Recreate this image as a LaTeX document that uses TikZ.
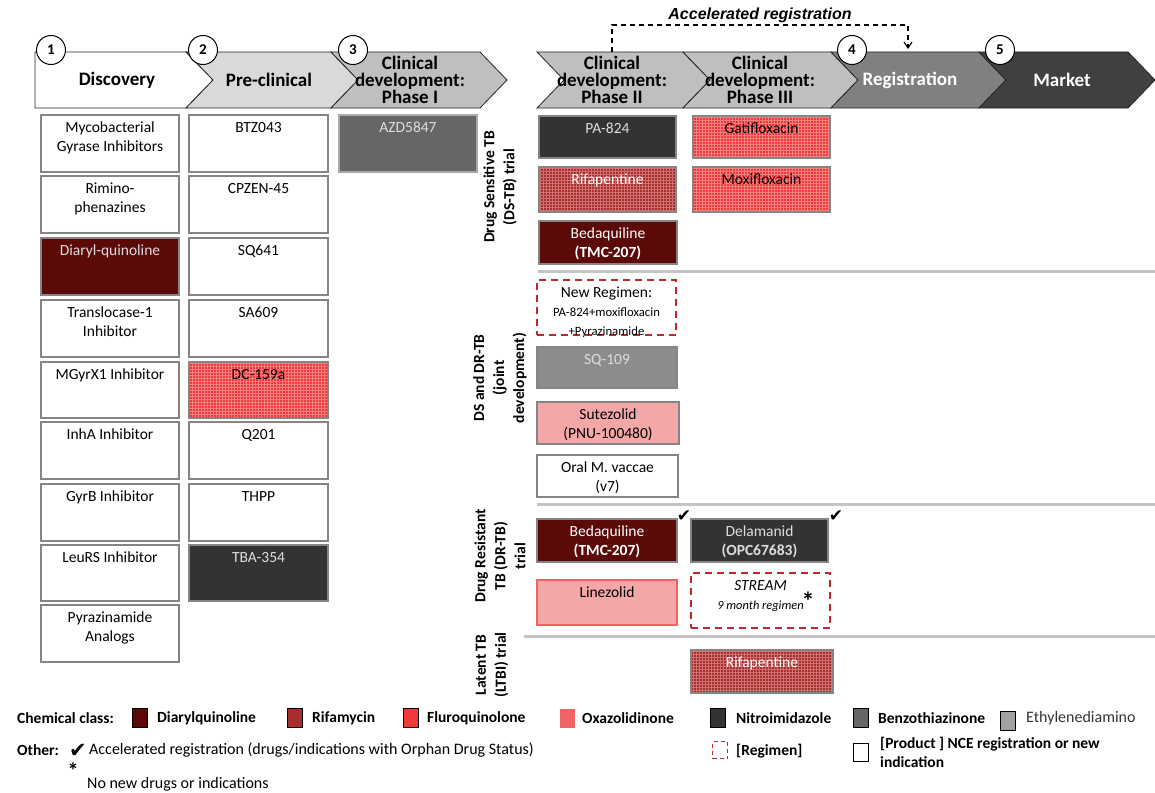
\documentclass[tikz,border=0pt]{standalone}
\usepackage{fontspec}
\setmainfont{Carlito}
\newfontfamily\arialfont{Liberation Sans}
\newfontfamily\symfont{DejaVu Sans}
\usetikzlibrary{patterns,arrows.meta}
\definecolor{boxgray}{HTML}{858585}
\definecolor{dq}{HTML}{5C0A08}
\definecolor{rifred}{HTML}{A82E2E}
\definecolor{rifgrid}{HTML}{D07070}
\definecolor{flured}{HTML}{F03A3A}
\definecolor{flugrid}{HTML}{F68080}
\definecolor{oxa}{HTML}{F4A7A7}
\definecolor{oxaborder}{HTML}{F26060}
\definecolor{oxaleg}{HTML}{F26464}
\definecolor{nitro}{HTML}{333333}
\definecolor{benzo}{HTML}{666666}
\definecolor{ethyl}{HTML}{8C8C8C}
\definecolor{dashred}{HTML}{C0262C}
\definecolor{sepgray}{HTML}{C4C4C4}
\definecolor{lighttext}{HTML}{DDDDDD}
\definecolor{chA}{HTML}{D9D9D9}
\definecolor{chB}{HTML}{BFBFBF}
\definecolor{chC}{HTML}{808080}
\definecolor{chD}{HTML}{404040}
\tikzset{
  chev/.style={draw=black!85, line width=0.8pt},
  numc/.style={circle, draw=black, line width=1pt, fill=white, minimum size=29pt, inner sep=0pt, font=\bfseries\fontsize{15}{15}\selectfont},
  head/.style={align=center, font=\bfseries\fontsize{19}{17}\selectfont, inner sep=0pt},
  bbox/.style={draw=boxgray, line width=2.5pt, inner sep=0pt, outer sep=0pt},
  whitebox/.style={bbox, fill=white},
  dqbox/.style={bbox, fill=dq},
  rifbox/.style={bbox, preaction={fill=rifred}, pattern=grid, pattern color=rifgrid},
  flubox/.style={bbox, preaction={fill=flured}, pattern=grid, pattern color=flugrid},
  oxabox/.style={bbox, fill=oxa},
  linbox/.style={bbox, fill=oxa, draw=oxaborder},
  nitrobox/.style={bbox, fill=nitro},
  benzobox/.style={bbox, fill=benzo, draw=boxgray!70},
  ethylbox/.style={bbox, fill=ethyl},
  regbox/.style={draw=dashred, line width=2pt, dash pattern=on 7pt off 5pt, inner sep=0pt, outer sep=0pt},
  btext/.style={align=center, anchor=north, inner sep=0pt, font=\fontsize{15.5}{19}\selectfont},
  side/.style={rotate=90, align=center, inner sep=0pt, font=\bfseries\fontsize{15.5}{20}\selectfont},
  sepline/.style={draw=sepgray, line width=3pt},
  lsq/.style={draw=black, line width=1pt, minimum width=15pt, minimum height=19pt, inner sep=0pt},
  ltext/.style={anchor=west, inner sep=0pt, font=\fontsize{16}{19}\selectfont},
  lbold/.style={anchor=west, inner sep=0pt, font=\bfseries\fontsize{15.5}{19}\selectfont},
  chk/.style={inner sep=0pt, font=\symfont\fontsize{17}{17}\selectfont},
}
\newcommand\bx[8]{%
  \node[#6, minimum width={#4pt-#2pt}, minimum height={#5pt-#3pt}] (#1) at ({(#2+#4)/2},{(#3+#5)/2}) {};
  \node[btext, text=#7] (#1-t) at ([yshift=-3.5pt]#1.north) {\strut #8};
}
\begin{document}
\begin{tikzpicture}[x=1pt, y=-1pt]
\useasboundingbox (0,0) rectangle (1155,792);

% ---------- header chevrons ----------
\path[chev, fill=white] (35,52) -- (186,52) -- (213,80) -- (186,108) -- (35,108) -- cycle;
\path[chev, fill=chA] (186,52) -- (331,52) -- (358,80) -- (331,108) -- (186,108) -- (213,80) -- cycle;
\path[chev, fill=chB] (331,52) -- (480,52) -- (507,80) -- (480,108) -- (331,108) -- (358,80) -- cycle;
\path[chev, fill=chB] (537,52) -- (683,52) -- (710,80) -- (683,108) -- (537,108) -- (564,80) -- cycle;
\path[chev, fill=chB] (683,52) -- (831,52) -- (858,80) -- (831,108) -- (683,108) -- (710,80) -- cycle;
\path[chev, fill=chC] (831,52) -- (979,52) -- (1006,80) -- (979,108) -- (831,108) -- (858,80) -- cycle;
\path[chev, fill=chD] (979,52) -- (1128,52) -- (1155,80) -- (1128,108) -- (979,108) -- (1006,80) -- cycle;

\node[head] (h1) at (117,80) {Discovery};
\node[head] (h2) at (269,80) {Pre-clinical};
\node[head] (h3) at (410,80) {Clinical\\development:\\Phase I};
\node[head] (h4) at (612,80) {Clinical\\development:\\Phase II};
\node[head] (h5) at (760,80) {Clinical\\development:\\Phase III};
\node[head, text=white] (h6) at (910,80) {Registration};
\node[head, text=white] (h7) at (1062,80) {Market};

\node[numc] (n1) at (51,50) {1};
\node[numc] (n2) at (203,50) {2};
\node[numc] (n3) at (353,50) {3};
\node[numc] (n4) at (852,50) {4};
\node[numc] (n5) at (1000,50) {5};

% accelerated registration
\coordinate (accS) at (612,52);
\coordinate (accE) at (908,49);
\draw[line width=1.1pt, dash pattern=on 5pt off 4pt, -{Straight Barb[length=6pt, width=8pt]}] (accS) -- ++(0,-27) -| (accE);
\node[inner sep=0pt, font=\arialfont\bfseries\itshape\fontsize{16}{16}\selectfont] (acc) at (760,15) {Accelerated registration};

% ---------- Discovery column ----------
\bx{d1}{41}{115}{179}{172}{whitebox}{black}{Mycobacterial\\Gyrase Inhibitors}
\bx{d2}{41}{176}{179}{233}{whitebox}{black}{Rimino-\\phenazines}
\bx{d3}{41}{238}{179}{295}{dqbox}{lighttext}{Diaryl-quinoline}
\bx{d4}{41}{300}{179}{357}{whitebox}{black}{Translocase-1\\Inhibitor}
\bx{d5}{41}{362}{179}{418}{whitebox}{black}{MGyrX1 Inhibitor}
\bx{d6}{41}{422}{179}{479}{whitebox}{black}{InhA Inhibitor}
\bx{d7}{41}{484}{179}{541}{whitebox}{black}{GyrB Inhibitor}
\bx{d8}{41}{545}{179}{601}{whitebox}{black}{LeuRS Inhibitor}
\bx{d9}{41}{605}{179}{662}{whitebox}{black}{Pyrazinamide\\Analogs}

% ---------- Pre-clinical column ----------
\bx{p1}{189}{115}{328}{172}{whitebox}{black}{BTZ043}
\bx{p2}{189}{176}{328}{233}{whitebox}{black}{CPZEN-45}
\bx{p3}{189}{238}{328}{295}{whitebox}{black}{SQ641}
\bx{p4}{189}{300}{328}{357}{whitebox}{black}{SA609}
\bx{p5}{189}{362}{328}{418}{flubox}{black}{DC-159a}
\bx{p6}{189}{422}{328}{479}{whitebox}{black}{Q201}
\bx{p7}{189}{484}{328}{541}{whitebox}{black}{THPP}
\bx{p8}{189}{545}{328}{601}{nitrobox}{lighttext}{TBA-354}

% ---------- Phase I ----------
\bx{c1}{339}{115}{477}{172}{benzobox}{lighttext}{AZD5847}

% ---------- side labels ----------
\node[side] (sDS) at (500,187) {Drug Sensitive TB\\(DS-TB) trial};
\node[side] (sJ) at (500,378) {DS and DR-TB\\(joint\\development)};
\node[side] (sDR) at (500,556) {Drug Resistant\\TB (DR-TB)\\trial};
\node[side] (sL) at (492,665) {Latent TB\\(LTBI) trial};

% ---------- separators ----------
\coordinate (s1a) at (538,271); \coordinate (s1b) at (1155,271);
\coordinate (s2a) at (537,504); \coordinate (s2b) at (1155,504);
\coordinate (s3a) at (524,636); \coordinate (s3b) at (1155,636);
\draw[sepline] (s1a) -- (s1b);
\draw[sepline] (s2a) -- (s2b);
\draw[sepline] (s3a) -- (s3b);

% ---------- DS-TB ----------
\bx{r1}{539}{116}{676}{158}{nitrobox}{lighttext}{PA-824}
\bx{r2}{539}{167}{676}{212}{rifbox}{white}{Rifapentine}
\bx{r3}{539}{221}{677}{264}{dqbox}{white}{Bedaquiline\\\textbf{(TMC-207)}}
\bx{r4}{693}{116}{830}{158}{flubox}{black}{Gatifloxacin}
\bx{r5}{693}{167}{830}{212}{flubox}{black}{Moxifloxacin}

% ---------- joint ----------
\bx{j1}{537}{280}{676}{335}{regbox}{black}{New Regimen:\\{\fontsize{12.7}{15}\selectfont PA-824+moxifloxacin}\\{\fontsize{12.7}{15}\selectfont +Pyrazinamide}}
\bx{j2}{537}{347}{677}{388}{ethylbox}{lighttext}{SQ-109}
\bx{j3}{537}{402}{679}{444}{oxabox}{black}{Sutezolid\\(PNU-100480)}
\bx{j4}{537}{455}{678}{497}{whitebox}{black}{Oral M. vaccae\\(v7)}

% ---------- DR-TB ----------
\bx{k1}{537}{519}{677}{562}{dqbox}{white}{Bedaquiline\\\textbf{(TMC-207)}}
\bx{k2}{691}{519}{828}{562}{nitrobox}{lighttext}{Delamanid\\\textbf{(OPC67683)}}
\bx{k3}{537}{580}{677}{625}{linbox}{black}{Linezolid}
\bx{k4}{691}{573}{830}{628}{regbox}{black}{\textit{STREAM}\\{\fontsize{12.4}{15}\selectfont\itshape 9 month regimen}}
\node[inner sep=0pt, font=\bfseries\fontsize{26}{26}\selectfont] (k4s) at (808,601) {*};
\node[chk] (ck1) at (684,516) {✔};
\node[chk] (ck2) at (836,516) {✔};

% ---------- LTBI ----------
\bx{m1}{691}{650}{833}{693}{rifbox}{white}{Rifapentine}

% ---------- legend ----------
\node[lbold] (lgT) at (17,718) {Chemical class:};
\node[lsq, fill=dq] (q1) at (140,718) {};
\node[lbold] (q1t) at (157,718) {Diarylquinoline};
\node[lsq, fill=rifred] (q2) at (295,718) {};
\node[lbold] (q2t) at (312,718) {Rifamycin};
\node[lsq, fill=flured] (q3) at (411,718) {};
\node[lbold] (q3t) at (427,718) {Fluroquinolone};
\node[lsq, fill=oxaleg, draw=none] (q4) at (567,718) {};
\node[lbold] (q4t) at (582,718) {Oxazolidinone};
\node[lsq, fill=nitro] (q5) at (718,718) {};
\node[lbold] (q5t) at (736,718) {Nitroimidazole};
\node[lsq, fill=benzo] (q6) at (861,718) {};
\node[lbold] (q6t) at (878,718) {Benzothiazinone};
\node[lsq, fill=ethyl!80] (q7) at (1008,721) {};
\node[ltext, text=black!80] (q7t) at (1026,718) {Ethylenediamino};

\node[lbold] (lgO) at (17,750) {Other:};
\node[inner sep=0pt, font=\symfont\fontsize{21}{21}\selectfont] (oc) at (78,751) {✔};
\node[ltext] (oct) at (89,750) {Accelerated registration (drugs/indications with Orphan Drug Status)};
\node[inner sep=0pt, font=\bfseries\fontsize{22}{22}\selectfont] (os) at (73,771) {*};
\node[ltext] (ost) at (87,784) {No new drugs or indications};
\node[lsq, draw=dashred, line width=1.5pt, dash pattern=on 4pt off 3pt, minimum height=17pt] (q8) at (720,750) {};
\node[lbold] (q8t) at (736,751) {[Regimen]};
\node[lsq, fill=white, minimum height=18pt] (q9) at (861,752) {};
\node[lbold, align=left, font=\bfseries\fontsize{15.5}{19}\selectfont] (q9t) at (880,752) {[Product ] NCE registration or new\\indication};
\end{tikzpicture}
\end{document}
